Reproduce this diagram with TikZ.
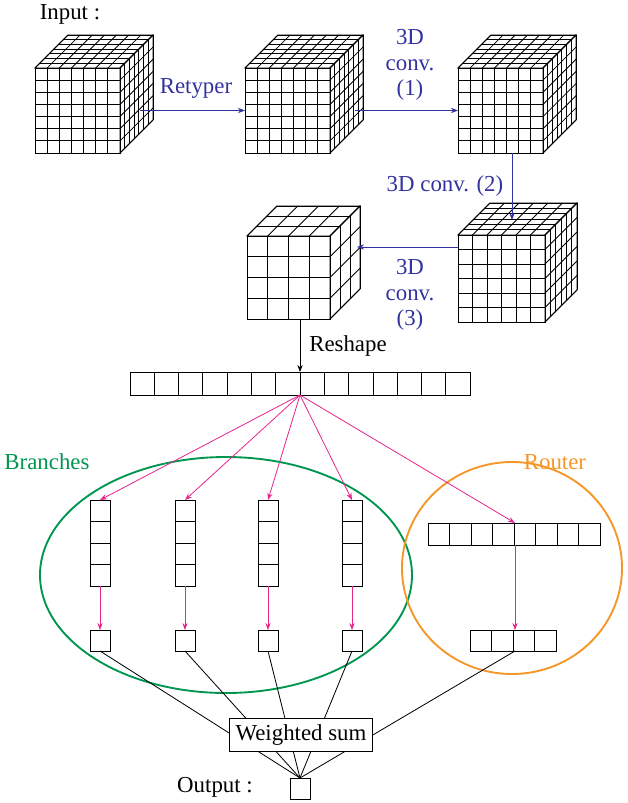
\documentclass[tikz,border=0pt]{standalone}
\usepackage{fontspec}
\setmainfont{Liberation Serif}
\usetikzlibrary{arrows.meta}
\definecolor{convblue}{RGB}{50,50,160}
\definecolor{linkpink}{RGB}{230,40,140}
\definecolor{branchgreen}{RGB}{0,150,80}
\definecolor{routerorange}{RGB}{245,150,40}
% cube: name, x, y (front top left), size, front cells, depth, depth cells
\newcommand{\gridcube}[7]{%
  \coordinate (#1) at (#2,#3);
  \coordinate (#1-left) at (#2,#3+#4/2);
  \draw[fill=white] (#2,#3) rectangle ++(#4,#4);
  \foreach \i in {1,...,#5} {
    \draw (#2+\i*#4/#5,#3) -- ++(0,#4);
    \draw (#2,#3+\i*#4/#5) -- ++(#4,0);
  }
  \draw[fill=white] (#2,#3) -- ++(#4,0) -- ++(#6,-#6) -- ++(-#4,0) -- cycle;
  \draw[fill=white] (#2+#4,#3) -- ++(#6,-#6) -- ++(0,#4) -- ++(-#6,#6) -- cycle;
  \foreach \i in {0,...,#5} {
    \draw (#2+\i*#4/#5,#3) -- ++(#6,-#6);
    \draw (#2+#4,#3+\i*#4/#5) -- ++(#6,-#6);
  }
  \foreach \j in {0,...,#7} {
    \draw (#2+\j*#6/#7,#3-\j*#6/#7) -- ++(#4,0);
    \draw (#2+#4+\j*#6/#7,#3-\j*#6/#7) -- ++(0,#4);
  }
}
\tikzset{
  conv/.style={convblue, -{Stealth[length=6pt]}},
  link/.style={linkpink, -{Stealth[length=6pt]}},
  cell/.style={draw, fill=white},
  lbl/.style={font=\fontsize{19.5}{22}\selectfont, inner sep=1pt, align=center}
}
\begin{document}
\begin{tikzpicture}[x=0.03cm, y=-0.03cm, line width=0.7pt]
\useasboundingbox (0,0) rectangle (628,803);

% groups
\draw[branchgreen, line width=1.6pt] (226,575) ellipse (186 and 118);
\draw[routerorange, line width=1.6pt] (512,568) ellipse (110 and 106);
\node[lbl, branchgreen] (brlbl) at (47,462) {Branches};
\node[lbl, routerorange] (rtlbl) at (555,462) {Router};

% cubes
\node[lbl] (inlbl) at (70,14) {Input :};
\gridcube{c1}{35}{68}{85}{7}{33}{7}
\gridcube{c2}{245}{68}{85}{7}{33}{7}
\gridcube{c3}{458}{68}{85}{7}{33}{7}
\gridcube{c4}{458}{235}{87}{6}{32}{6}
\gridcube{c5}{247}{236}{83}{4}{30}{3}

\coordinate (c1-out) at (140,110.5);
\coordinate (c2-out) at (355,110.5);
\draw[conv] (c1-out) -- (c2-left);
\node[lbl, convblue] (l1) at (196,88) {Retyper};
\draw[conv] (c2-out) -- (c3-left);
\node[lbl, convblue] (l2) at (410,65) {3D\\conv.\\(1)};
\coordinate (c3-low) at (512,153);
\coordinate (c4-hit) at (512,220);
\draw[conv] (c3-low) -- (c4-hit);
\node[lbl, convblue] (l3) at (445,186) {3D conv. (2)};
\coordinate (c4-start) at (458,247);
\coordinate (c5-hit) at (357,247);
\draw[conv] (c4-start) -- (c5-hit);
\node[lbl, convblue] (l4) at (410,295) {3D\\conv.\\(3)};

% flattened vector
\foreach \i in {0,...,13}
  \draw[cell] (130+\i*24.3,372) rectangle ++(24.3,23);
\coordinate (c5-bot) at (300,319);
\coordinate (flat-top) at (300,372);
\coordinate (flat-bot) at (300,395);
\draw[-{Stealth[length=6pt]}] (c5-bot) -- (flat-top);
\node[lbl] (reshape) at (348,346) {Reshape};

% branches
\foreach \x [count=\k] in {100,185,268,352} {
  \foreach \j in {0,...,3}
    \draw[cell] (\x-10,500+\j*21.5) rectangle ++(20,21.5);
  \coordinate (b\k-top) at (\x,500);
  \coordinate (b\k-bot) at (\x,586);
  \coordinate (o\k-top) at (\x,630);
  \coordinate (o\k-bot) at (\x,651);
  \draw[cell] (\x-10,630) rectangle ++(20,21);
  \draw[link] (flat-bot) -- (b\k-top);
  \draw[link] (b\k-bot) -- (o\k-top);
}

% router
\foreach \i in {0,...,7}
  \draw[cell] (428+\i*21.5,523) rectangle ++(21.5,22);
\foreach \i in {0,...,3}
  \draw[cell] (470+\i*21.5,630) rectangle ++(21.5,21);
\coordinate (r-top) at (515,523);
\coordinate (r-bot) at (515,545);
\coordinate (ro-top) at (515,630);
\coordinate (ro-bot) at (515,651);
\draw[link] (flat-bot) -- (r-top);
\draw[link] (r-bot) -- (ro-top);

% weighted sum and output
\coordinate (out-top) at (300,778);
\foreach \k in {1,...,4}
  \draw (o\k-bot) -- (out-top);
\draw (ro-bot) -- (out-top);
\node[lbl, draw, fill=white, inner sep=5pt] (wsum) at (301,735) {Weighted sum};
\node[draw, minimum width=0.6cm, minimum height=0.63cm, inner sep=0pt, anchor=north] (out) at (out-top) {};
\node[lbl] (outlbl) at (215,787) {Output :};
\end{tikzpicture}
\end{document}
